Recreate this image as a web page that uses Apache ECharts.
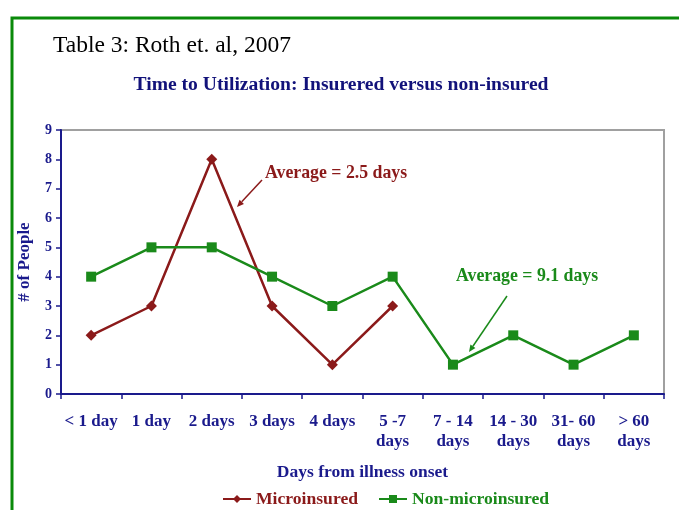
<!DOCTYPE html>
<html>
<head>
<meta charset="utf-8">
<script src="https://cdn.jsdelivr.net/npm/echarts@6/dist/echarts.min.js"></script>
<style>
html,body{margin:0;padding:0;background:#fff;}
#main{width:679px;height:510px;}
</style>
</head>
<body>
<div id="main"></div>
<script>
var categories = ['< 1 day', '1 day', '2 days', '3 days', '4 days', '5 -7\ndays', '7 - 14\ndays', '14 - 30\ndays', '31- 60\ndays', '> 60\ndays'];
var microinsured = [2, 3, 8, 3, 1, 3, null, null, null, null];
var nonMicroinsured = [4, 5, 5, 4, 3, 4, 1, 2, 1, 2];
var yTicks = [0, 1, 2, 3, 4, 5, 6, 7, 8, 9];

var NAVY = '#1a1a8c';
var RED = '#8b1a1a';
var GREEN = '#1a8a1a';
var SERIF = '"Liberation Serif","Times New Roman",serif';

function arrow(x1, y1, x2, y2, color) {
  var ang = Math.atan2(y2 - y1, x2 - x1);
  var L = 7, W = 3;
  var bx = x2 - L * Math.cos(ang), by = y2 - L * Math.sin(ang);
  var px = -Math.sin(ang) * W, py = Math.cos(ang) * W;
  return [
    {type: 'line', shape: {x1: x1, y1: y1, x2: bx, y2: by}, style: {stroke: color, lineWidth: 1.5}},
    {type: 'polygon', shape: {points: [[x2, y2], [bx + px, by + py], [bx - px, by - py]]}, style: {fill: color}}
  ];
}

var chart = echarts.init(document.getElementById('main'), null, {renderer: 'canvas'});
var graphics = [
  {type: 'rect', shape: {x: 12, y: 18, width: 680, height: 520}, style: {fill: 'none', stroke: '#0a8a0a', lineWidth: 3}},
  {type: 'text', x: 53, y: 46, style: {text: 'Table 3: Roth et. al, 2007', font: '23.5px ' + SERIF, fill: '#000', verticalAlign: 'middle'}},
  {type: 'text', x: 341, y: 85, style: {text: 'Time to Utilization: Insurered versus non-insured', font: 'bold 19.6px ' + SERIF, fill: '#12127a', align: 'center', verticalAlign: 'middle'}},
  {type: 'text', x: 265, y: 173, style: {text: 'Average = 2.5 days', font: 'bold 17.8px ' + SERIF, fill: RED, verticalAlign: 'middle'}},
  {type: 'text', x: 456, y: 276, style: {text: 'Average = 9.1 days', font: 'bold 17.8px ' + SERIF, fill: GREEN, verticalAlign: 'middle'}}
].concat(arrow(262, 180, 237, 207, RED)).concat(arrow(507, 296, 469, 352, GREEN));

chart.setOption({
  animation: false,
  backgroundColor: '#fff',
  grid: {left: 61, right: 15, top: 130, bottom: 116, show: true, borderColor: '#a0a0a0', borderWidth: 2, backgroundColor: 'transparent'},
  legend: {
    top: 485, left: 217, itemGap: 20, itemWidth: 28, itemHeight: 10,
    data: [
      {name: 'Microinsured', textStyle: {color: RED}},
      {name: 'Non-microinsured', textStyle: {color: GREEN}}
    ],
    textStyle: {fontFamily: SERIF, fontWeight: 'bold', fontSize: 17.6}
  },
  xAxis: {
    type: 'category', data: categories, boundaryGap: true,
    name: 'Days from illness onset', nameLocation: 'middle', nameGap: 69,
    nameTextStyle: {color: NAVY, fontFamily: SERIF, fontWeight: 'bold', fontSize: 17.5},
    axisLine: {lineStyle: {color: NAVY, width: 2}},
    axisTick: {show: true, length: 5, lineStyle: {color: NAVY, width: 1.5}},
    axisLabel: {color: NAVY, fontFamily: SERIF, fontWeight: 'bold', fontSize: 17, lineHeight: 20, margin: 18, interval: 0}
  },
  yAxis: {
    type: 'value', min: 0, max: 9, interval: 1,
    name: '# of People', nameLocation: 'middle', nameGap: 28, nameRotate: 90,
    nameTextStyle: {color: NAVY, fontFamily: SERIF, fontWeight: 'bold', fontSize: 17},
    axisLine: {show: true, lineStyle: {color: NAVY, width: 2}},
    axisTick: {show: true, length: 5, lineStyle: {color: NAVY, width: 1.5}},
    splitLine: {show: false},
    axisLabel: {color: NAVY, fontFamily: SERIF, fontWeight: 'bold', fontSize: 14, margin: 9,
      formatter: function (v) { return yTicks.indexOf(v) >= 0 ? String(v) : ''; }}
  },
  series: [
    {name: 'Microinsured', type: 'line', data: microinsured, symbol: 'diamond', symbolSize: 11,
      lineStyle: {color: RED, width: 2.5}, itemStyle: {color: RED}, connectNulls: false},
    {name: 'Non-microinsured', type: 'line', data: nonMicroinsured, symbol: 'rect', symbolSize: 10,
      lineStyle: {color: GREEN, width: 2.5}, itemStyle: {color: GREEN}}
  ],
  graphic: graphics
});
</script>
</body>
</html>
